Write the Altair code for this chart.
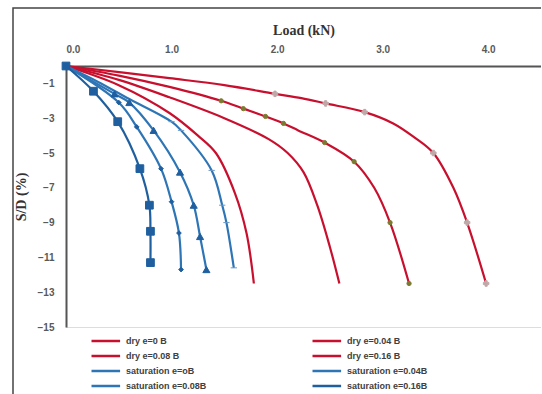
import altair as alt
import pandas as pd

names = ["dry e=0 B", "dry e=0.04 B", "dry e=0.08 B", "dry e=0.16 B",
         "saturation e=oB", "saturation e=0.04B", "saturation e=0.08B", "saturation e=0.16B"]

dry0_load = [0, 0.98, 1.5, 1.98, 2.23, 2.46, 2.83, 3.1, 3.3, 3.48, 3.67, 3.8, 3.98]
dry0_sd = [0, -0.7, -1.1, -1.6, -1.85, -2.15, -2.65, -3.3, -4.1, -5.0, -7.0, -9.0, -12.5]
dry0_mk = [0, 0, 0, 1, 0, 1, 1, 0, 0, 1, 0, 1, 1]

dry04_load = [0, 0.5, 0.98, 1.47, 1.68, 1.89, 2.06, 2.2, 2.45, 2.73, 2.92, 3.07, 3.25]
dry04_sd = [0, -0.55, -1.2, -2.0, -2.45, -2.9, -3.3, -3.7, -4.4, -5.5, -7.0, -9.0, -12.5]
dry04_mk = [0, 0, 0, 1, 1, 1, 1, 0, 1, 1, 0, 1, 1]

dry08_load = [0, 0.5, 0.98, 1.5, 1.92, 2.1, 2.25, 2.38, 2.5, 2.59]
dry08_sd = [0, -0.8, -1.8, -3.0, -4.2, -5.0, -6.1, -8.0, -10.4, -12.5]
dry08_mk = [0, 0, 0, 0, 0, 0, 0, 0, 0, 0]

dry16_load = [0, 0.5, 0.98, 1.25, 1.42, 1.6, 1.71, 1.78]
dry16_sd = [0, -1.1, -2.7, -4.0, -5.0, -7.3, -9.6, -12.5]
dry16_mk = [0, 0, 0, 0, 0, 0, 0, 0]

sat0_load = [0, 0.3, 0.6, 1.0, 1.09, 1.38, 1.48, 1.52, 1.59]
sat0_sd = [0, -0.9, -1.9, -3.2, -3.7, -6.0, -8.0, -9.0, -11.6]
sat0_mk = [0, 0, 0, 1, 1, 1, 1, 1, 1]

sat04_load = [0, 0.46, 0.6, 0.83, 1.08, 1.21, 1.27, 1.33]
sat04_sd = [0, -1.6, -2.1, -3.7, -6.1, -8.0, -9.8, -11.7]
sat04_mk = [0, 1, 1, 1, 1, 1, 1, 1]

sat08_load = [0, 0.5, 0.67, 0.9, 1.0, 1.07, 1.09]
sat08_sd = [0, -2.1, -3.5, -5.9, -7.8, -9.6, -11.7]
sat08_mk = [0, 1, 1, 1, 1, 1, 1]

sat16_load = [0, 0.26, 0.49, 0.70, 0.79, 0.80, 0.80]
sat16_sd = [0, -1.45, -3.2, -5.9, -8.0, -9.5, -11.3]
sat16_mk = [1, 1, 1, 1, 1, 1, 1]

series = [
    (dry0_load, dry0_sd, dry0_mk),
    (dry04_load, dry04_sd, dry04_mk),
    (dry08_load, dry08_sd, dry08_mk),
    (dry16_load, dry16_sd, dry16_mk),
    (sat0_load, sat0_sd, sat0_mk),
    (sat04_load, sat04_sd, sat04_mk),
    (sat08_load, sat08_sd, sat08_mk),
    (sat16_load, sat16_sd, sat16_mk),
]

colors = ["#C8102E", "#C8102E", "#C8102E", "#C8102E",
          "#2E75B6", "#2E75B6", "#2E75B6", "#1F5F9F"]
shapes = ["cross", "circle", "circle", "circle",
          "stroke", "triangle-up", "diamond", "square"]
marker_fill = ["#C0A8A8", "#7A7A30", "#C8102E", "#C8102E",
               "#6A9ACC", "#1F5F9F", "#1F5F9F", "#1F5F9F"]
marker_size = [30, 18, 18, 18, 40, 50, 22, 60]

rows = []
for k, (name, (ld, sd, mk)) in enumerate(zip(names, series)):
    for i, (a, b, m) in enumerate(zip(ld, sd, mk)):
        rows.append({"series": name, "load": a, "sd": b, "mk": m, "ord": i})
df = pd.DataFrame(rows)

# legend fills column by column: order the domain so rows read like the reference
legend_order = [0, 2, 4, 6, 1, 3, 5, 7]
dom = [names[i] for i in legend_order]
rng = [colors[i] for i in legend_order]

x_scale = alt.Scale(domain=[0, 4.5], nice=False, zero=False)
y_scale = alt.Scale(domain=[-15, 0], nice=False, zero=False)

x_enc = alt.X("load:Q", scale=x_scale, axis=alt.Axis(
    orient="top", values=[0, 1, 2, 3, 4], format=".1f", title="Load (kN)",
    ticks=False, grid=False, labelPadding=12, labelFont="Liberation Sans",
    labelFontWeight="bold", labelFontSize=10, labelColor="#595959", labelOverlap=False,
    titleFont="Liberation Serif", titleFontSize=14, titleFontWeight="bold",
    titleColor="#333333", titlePadding=7, domainColor="#555555", domainWidth=2))
y_enc = alt.Y("sd:Q", scale=y_scale, axis=alt.Axis(
    orient="left", values=[-1, -3, -5, -7, -9, -11, -13, -15], title="S/D (%)",
    ticks=False, grid=False, labelPadding=12, labelFont="Liberation Sans",
    labelFontWeight="bold", labelFontSize=10, labelColor="#595959", labelOverlap=False,
    titleFont="Liberation Serif", titleFontSize=14, titleFontWeight="bold",
    titleColor="#333333", titlePadding=9, domainColor="#555555", domainWidth=2))

color_enc = alt.Color("series:N", scale=alt.Scale(domain=dom, range=rng),
                      legend=alt.Legend(
                          title=None, orient="none", legendX=24, legendY=267,
                          columns=2, columnPadding=100, rowPadding=2,
                          symbolType="M-1,0H3.4", symbolSize=169, symbolStrokeWidth=2.5,
                          labelOffset=20,
                          labelFont="Liberation Sans", labelFontSize=9,
                          labelFontWeight="bold", labelColor="#404040"))

base = alt.Chart(df).encode(x=x_enc, y=y_enc)

lines = base.mark_line(interpolate="catmull-rom", strokeWidth=2.2).encode(
    color=color_enc, order="ord:Q", detail="series:N")

point_layers = []
for k, name in enumerate(names):
    point_layers.append(
        base.transform_filter((alt.datum.series == name) & (alt.datum.mk == 1))
        .mark_point(filled=True, opacity=1, shape=shapes[k], size=marker_size[k],
                    fill=marker_fill[k], stroke=marker_fill[k], strokeWidth=1)
    )

frame = alt.Chart(alt.Data(values=[{}])).mark_rect(
    fill="transparent", stroke="#444444", strokeWidth=1.5).encode(
    x=alt.value(-53), x2=alt.value(480), y=alt.value(-58), y2=alt.value(340))

chart = alt.layer(frame, lines, *point_layers).properties(
    width=475, height=261,
    autosize=alt.AutoSizeParams(type="none"),
    padding={"left": 66, "top": 66, "right": 0, "bottom": 67},
).configure_view(stroke="#666666", strokeWidth=1.5).configure(background="white")

chart.save("out.html", embed_options={"renderer": "svg", "actions": False})
